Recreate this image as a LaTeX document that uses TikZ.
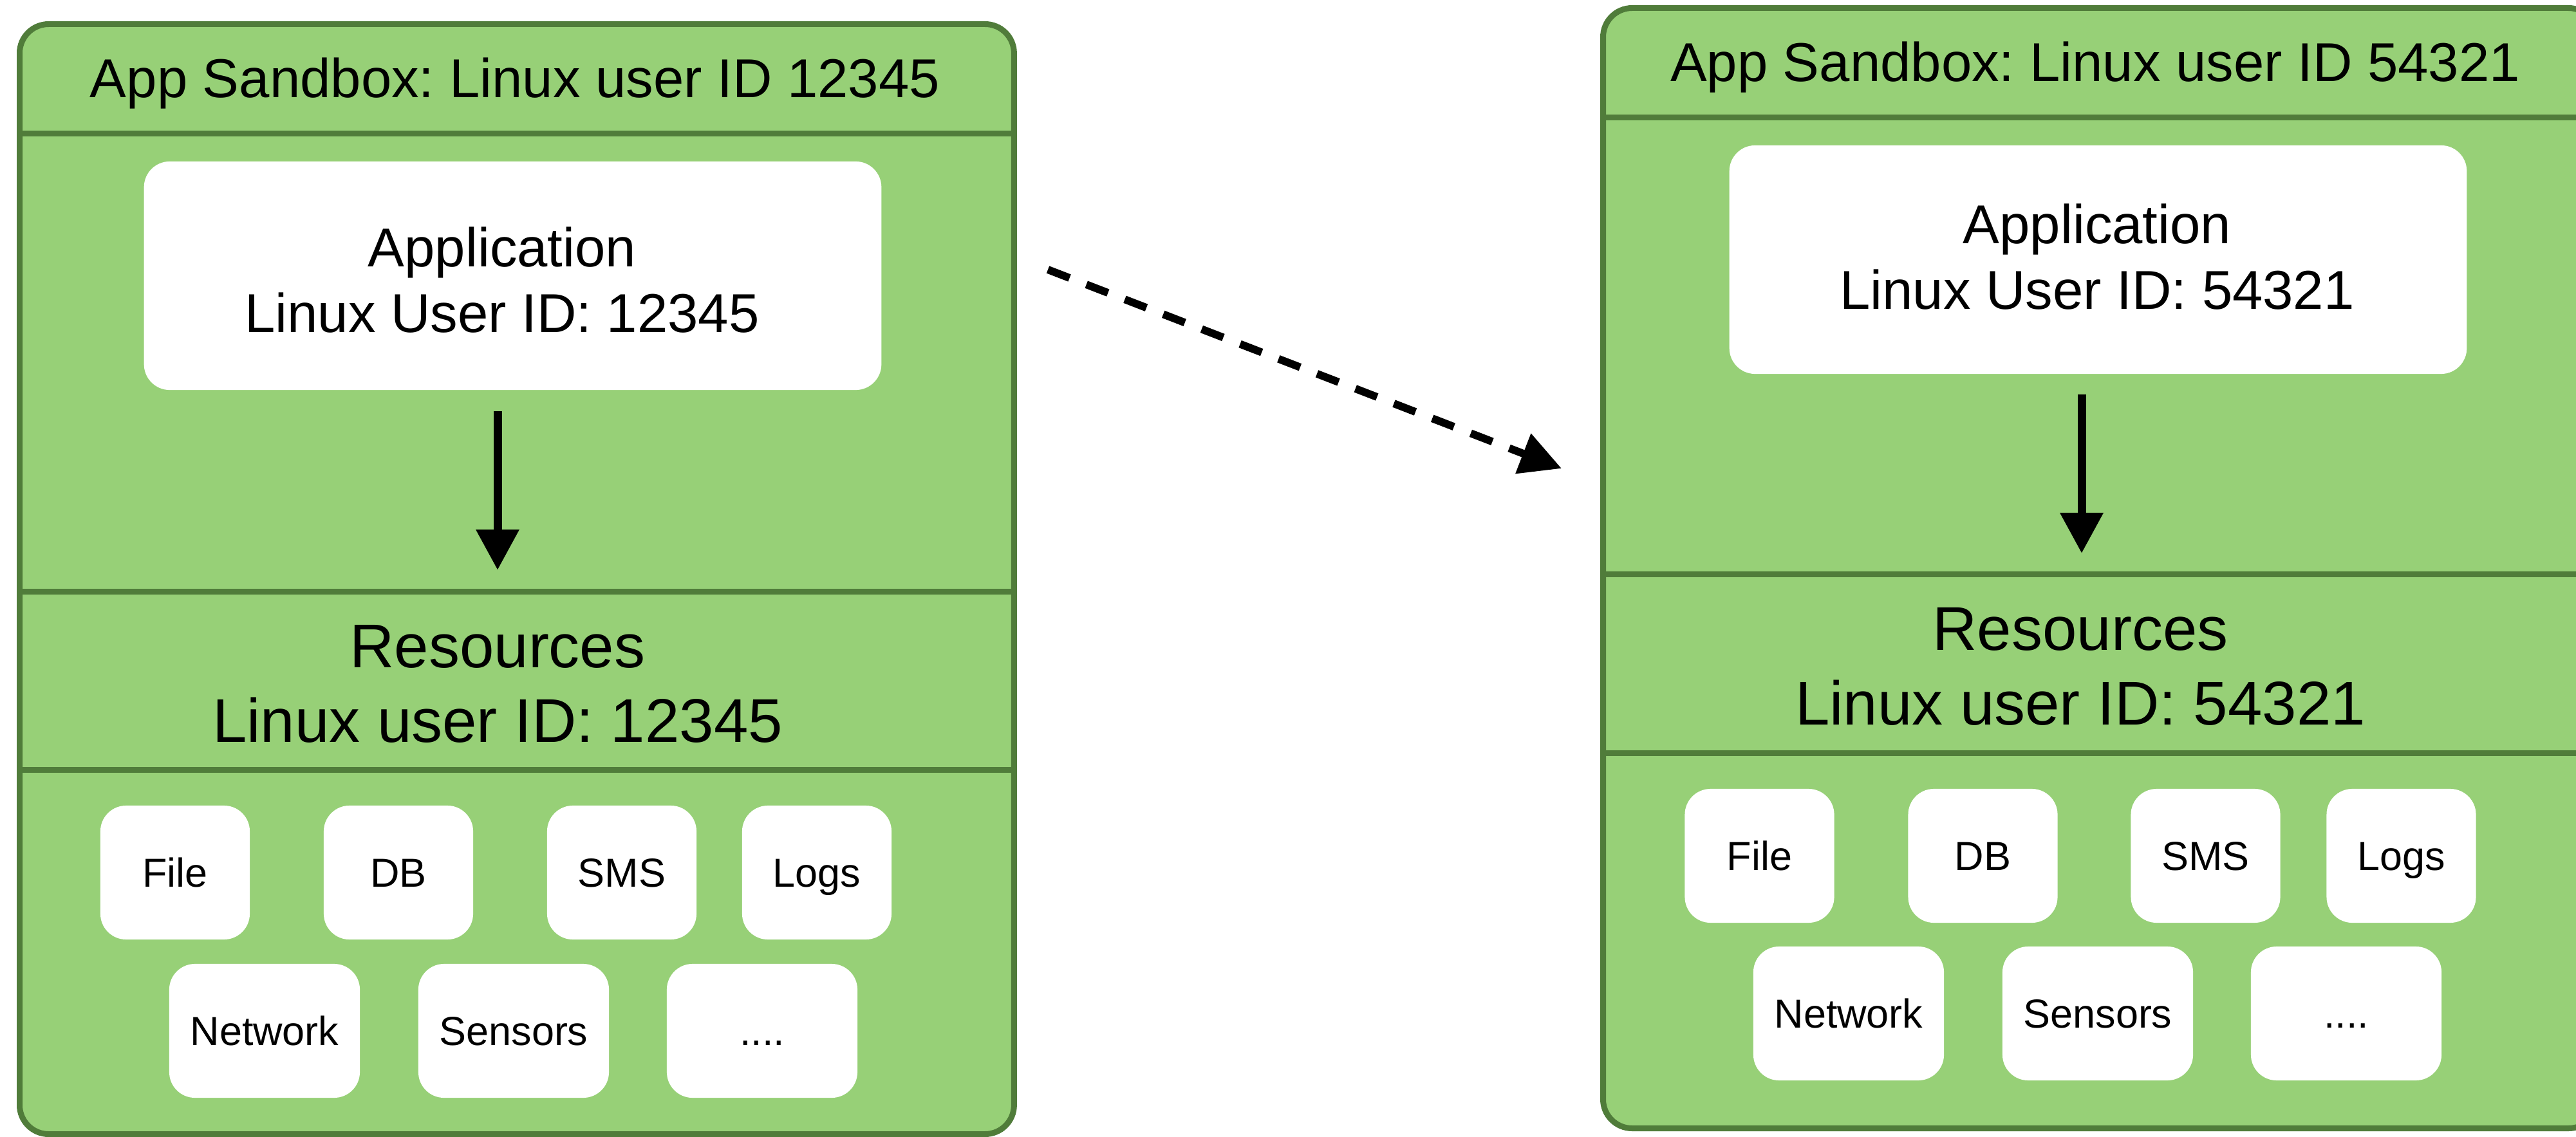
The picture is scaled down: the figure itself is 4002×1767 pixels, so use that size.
\documentclass[tikz,border=0pt]{standalone}
\usepackage{fontspec}
\setmainfont{Liberation Sans}
\usetikzlibrary{arrows.meta}
\definecolor{sbfill}{HTML}{97D077}
\definecolor{sbline}{HTML}{507C3A}
\frenchspacing
\begin{document}
\begin{tikzpicture}[x=0.01cm,y=-0.01cm,
  sandbox/.style={draw=sbline, fill=sbfill, line width=0.09cm, rounded corners=0.45cm, anchor=north west, inner sep=0pt, minimum width=15.44cm},
  divider/.style={draw=sbline, line width=0.09cm},
  appbox/.style={fill=white, rounded corners=0.4cm, minimum width=11.45cm, minimum height=3.55cm, inner sep=0pt},
  apptext/.style={align=center, inner sep=0pt, font=\fontsize{24.2}{29}\selectfont},
  hdrtext/.style={inner sep=0pt, font=\fontsize{24.2}{29}\selectfont, text height=17.4pt, text depth=0pt},
  restext/.style={align=center, inner sep=0pt, font=\fontsize{27.3}{33}\selectfont},
  smallbox/.style={fill=white, rounded corners=0.4cm, minimum width=2.32cm, minimum height=2.08cm, inner sep=0pt, font=\fontsize{17.9}{21}\selectfont, text height=12.9pt, text depth=0pt},
  widebox/.style={smallbox, minimum width=2.96cm},
  flow/.style={draw=black, line width=0.13cm, -{Triangle[length=0.63cm,width=0.64cm]}},
  dashflow/.style={draw=black, line width=0.12cm, dash pattern=on 0.36cm off 0.28cm, -{Triangle[length=0.64cm,width=0.64cm]}}
]
\useasboundingbox (0,0) rectangle (4002,1767);
\clip (0,0) rectangle (4002,1767);

% ---------- left sandbox ----------
\node[sandbox, minimum height=17.24cm] (sbL) at (26,33) {};
\draw[divider] (sbL.west |- 0,208) -- (sbL.east |- 0,208);
\draw[divider] (sbL.west |- 0,919) -- (sbL.east |- 0,919);
\draw[divider] (sbL.west |- 0,1196) -- (sbL.east |- 0,1196);
\node[hdrtext] (hdrL) at (800,121) {App Sandbox: Linux user ID 12345};
\node[appbox] (appL) at (796.5,428.5) {};
\node[apptext] (appTL) at (780,435) {Application\\Linux User ID: 12345};
\node[restext] (resL) at (773,1063) {Resources\\Linux user ID: 12345};
\coordinate (divL) at (773,919);
\draw[flow, shorten <=0.32cm, shorten >=0.33cm] (appL.south -| divL) -- (divL);

\node[smallbox] (fileL) at (272,1356) {File};
\node[smallbox] (dbL) at (619,1356) {DB};
\node[smallbox] (smsL) at (966,1356) {SMS};
\node[smallbox] (logsL) at (1269,1356) {Logs};
\node[widebox] (netL) at (411,1602) {Network};
\node[widebox] (senL) at (798,1602) {Sensors};
\node[widebox] (dotsL) at (1184,1602) {....};

% ---------- right sandbox ----------
\node[sandbox, minimum height=17.40cm] (sbR) at (2486,8) {};
\draw[divider] (sbR.west |- 0,183) -- (sbR.east |- 0,183);
\draw[divider] (sbR.west |- 0,892) -- (sbR.east |- 0,892);
\draw[divider] (sbR.west |- 0,1170) -- (sbR.east |- 0,1170);
\node[hdrtext] (hdrR) at (3255,96) {App Sandbox: Linux user ID 54321};
\node[appbox] (appR) at (3259.5,403.5) {};
\node[apptext] (appTR) at (3258,399) {Application\\Linux User ID: 54321};
\node[restext] (resR) at (3232,1036) {Resources\\Linux user ID: 54321};
\coordinate (divR) at (3234,892);
\draw[flow, shorten <=0.31cm, shorten >=0.32cm] (appR.south -| divR) -- (divR);

\node[smallbox] (fileR) at (2733.5,1330) {File};
\node[smallbox] (dbR) at (3080.5,1330) {DB};
\node[smallbox] (smsR) at (3426.5,1330) {SMS};
\node[smallbox] (logsR) at (3730.5,1330) {Logs};
\node[widebox] (netR) at (2872,1575) {Network};
\node[widebox] (senR) at (3259,1575) {Sensors};
\node[widebox] (dotsR) at (3645,1575) {....};

% ---------- dashed connector ----------
\coordinate (ds) at (1628,419);
\coordinate (de) at (2426,728);
\draw[dashflow] (ds) -- (de);
\end{tikzpicture}
\end{document}
